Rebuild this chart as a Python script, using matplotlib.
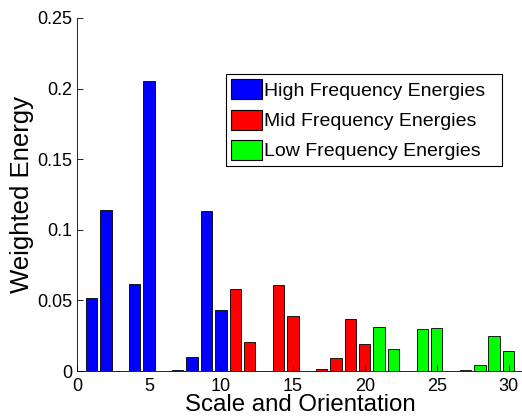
import matplotlib.pyplot as plt
from matplotlib.patches import Patch

plt.rcParams['font.family'] = ['Liberation Sans', 'DejaVu Sans']

# energies per scale/orientation index
high_pos = [1, 2, 3, 4, 5, 6, 7, 8, 9, 10]
high_vals = [0.0515, 0.114, 0.0, 0.0614, 0.2056, 0.0, 0.001, 0.0101, 0.1133, 0.043]
mid_pos = [11, 12, 13, 14, 15, 16, 17, 18, 19, 20]
mid_vals = [0.0579, 0.0203, 0.0003, 0.0609, 0.0392, 0.0, 0.0014, 0.0092, 0.0368, 0.0194]
low_pos = [21, 22, 23, 24, 25, 26, 27, 28, 29, 30]
low_vals = [0.0312, 0.0153, 0.0, 0.030, 0.0305, 0.0, 0.0005, 0.0042, 0.0248, 0.014]

labels = ['High Frequency Energies', 'Mid Frequency Energies', 'Low Frequency Energies']
colors = ['#0000ff', '#ff0000', '#00ff00']
xticks = [0, 5, 10, 15, 20, 25, 30]
yticks = [0, 0.05, 0.1, 0.15, 0.2, 0.25]
ytick_labels = ['0', '0.05', '0.1', '0.15', '0.2', '0.25']

fig = plt.figure(figsize=(5.22, 4.16), dpi=100)
ax = fig.add_axes([77/522, 45/416, 446/522, 353/416])

for pos, vals, c in zip([high_pos, mid_pos, low_pos], [high_vals, mid_vals, low_vals], colors):
    ax.bar(pos, vals, width=0.8, color=c, edgecolor='black', linewidth=0.6)

ax.set_xlim(0, 31)
ax.set_ylim(0, 0.25)
ax.set_xticks(xticks)
ax.set_yticks(yticks)
ax.set_yticklabels(ytick_labels)
ax.tick_params(direction='in', length=4, labelsize=13, width=0.6)
ax.tick_params(axis='x', pad=5)
ax.spines['top'].set_visible(False)
ax.spines['right'].set_visible(False)
ax.spines['left'].set_linewidth(0.6)
ax.spines['bottom'].set_linewidth(0.6)

ax.set_xlabel('Scale and Orientation', fontsize=17.3, labelpad=-1)
ax.set_ylabel('Weighted Energy', fontsize=18.5, labelpad=2)

# legend box spans pixels x 226-502, y 74-167
handles = [Patch(facecolor=c, edgecolor='black', linewidth=0.8) for c in colors]
leg = ax.legend(handles, labels, loc='upper left', mode='expand',
                bbox_to_anchor=(226/522, 1 - 167/416, 276/522, 93/416),
                bbox_transform=fig.transFigure,
                fontsize=14, fancybox=False, framealpha=1, edgecolor='black',
                handlelength=1.55, handleheight=1.2, handletextpad=0.15,
                labelspacing=0.5, borderpad=0.28, borderaxespad=0)
leg.get_frame().set_linewidth(0.8)

fig.savefig('out.png', dpi=100)
